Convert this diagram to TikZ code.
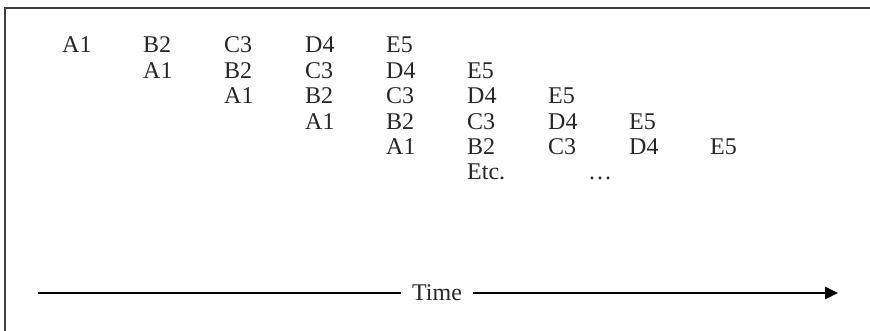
\documentclass[tikz,border=0pt]{standalone}
\usepackage{fontspec}
\setmainfont{Liberation Serif}
\usetikzlibrary{arrows.meta}
\begin{document}
\begin{tikzpicture}[x=1pt,y=-1pt,
  cell/.style={anchor=base west,inner sep=0pt,font=\fontsize{24}{27}\selectfont,text=black!85},
  frameline/.style={line width=1.6pt,draw=black!75},
  axis/.style={line width=2.8pt,draw=black}]
\useasboundingbox (0,0) rectangle (870,331);
\draw[frameline] (870,8) -- (5,8) -- (5,331);
\foreach \r in {0,...,4}{
  \foreach \c/\t in {0/A1,1/B2,2/C3,3/D4,4/E5}{
    \pgfmathtruncatemacro\col{\r+\c}
    \node[cell] (r\r c\c) at ({62+81*\col},{53+25.5*\r}) {\t};
  }}
\node[cell] (etc) at (467,180) {Etc.};
\node[cell] (dots) at (588,180) {…};
\node[cell,anchor=center,inner xsep=11pt] (time) at (437,293) {Time};
\coordinate (tl) at (38,293);
\coordinate (tr) at (838,293);
\draw[axis] (tl) -- (time.west);
\draw[axis,-{Triangle[length=13pt,width=12pt]}] (time.east) -- (tr);
\end{tikzpicture}
\end{document}
